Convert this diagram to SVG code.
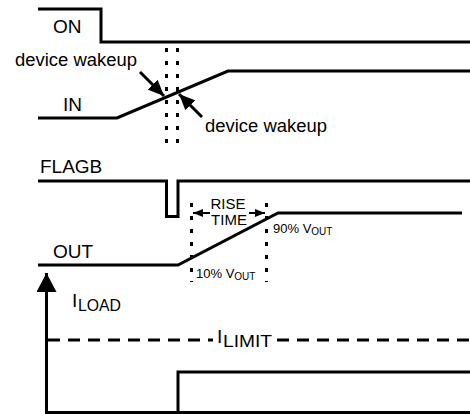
<svg xmlns="http://www.w3.org/2000/svg" width="470" height="414" viewBox="0 0 470 414">
<style>
.sig{fill:none;stroke:#000;stroke-width:3;stroke-linejoin:miter}
.dot{fill:none;stroke:#000;stroke-width:3;stroke-dasharray:4 9}
.dash{fill:none;stroke:#000;stroke-width:3;stroke-dasharray:12 8}
.arr{fill:none;stroke:#000;stroke-width:3}
.arr2{fill:none;stroke:#000;stroke-width:2}
.lbl{font-family:"Liberation Sans",Arial,sans-serif;font-size:19px;fill:#000}
.sub{font-family:"Liberation Sans",Arial,sans-serif;font-size:16px;fill:#000}
.note{font-family:"Liberation Sans",Arial,sans-serif;font-size:17.5px;fill:#000}
.small{font-family:"Liberation Sans",Arial,sans-serif;font-size:15px;fill:#000}
.tiny{font-family:"Liberation Sans",Arial,sans-serif;font-size:13px;fill:#000}
</style>
<defs>
<marker id="ah" markerUnits="userSpaceOnUse" markerWidth="16" markerHeight="14" refX="16" refY="7" orient="auto"><path d="M0,0 L16,7 L0,14 z" fill="#000"/></marker>
<marker id="ahs" markerUnits="userSpaceOnUse" markerWidth="10" markerHeight="8" refX="10" refY="4" orient="auto"><path d="M0,0 L10,4 L0,8 z" fill="#000"/></marker>
<marker id="ahb" markerUnits="userSpaceOnUse" markerWidth="19" markerHeight="20" refX="19" refY="10" orient="auto"><path d="M0,0 L19,10 L0,20 z" fill="#000"/></marker>
</defs>
<g id="connectors">
<path class="dot" d="M166.5,48 V152"/>
<path class="dot" d="M177.5,48 V152"/>
<path class="dot" d="M191.5,203 V282"/>
<path class="dot" d="M266.5,203 V282"/>
<path class="arr" d="M140,72 L164,96" marker-end="url(#ah)"/>
<path class="arr" d="M202,117 L179,94" marker-end="url(#ah)"/>
<path class="arr2" d="M210,213 L193,213" marker-end="url(#ahs)"/>
<path class="arr2" d="M249,213 L265,213" marker-end="url(#ahs)"/>
<path class="arr" d="M46.5,414 L46.5,273" marker-end="url(#ahb)"/>
<path class="dash" d="M48,340 H213"/>
<path class="dash" d="M277,340 H470"/>
</g>
<g id="sig-on">
<path class="sig" d="M38,9 H101 V42 H470"/>
<text class="lbl" x="53" y="33">ON</text>
</g>
<g id="sig-in">
<path class="sig" d="M38,118 H117 L228,71 H470"/>
<text class="lbl" x="63" y="111">IN</text>
</g>
<g id="note-wakeup-1"><text class="note" x="15" y="66" textLength="122" lengthAdjust="spacingAndGlyphs">device wakeup</text></g>
<g id="note-wakeup-2"><text class="note" x="205" y="132" textLength="122" lengthAdjust="spacingAndGlyphs">device wakeup</text></g>
<g id="sig-flagb">
<path class="sig" d="M38,181 H166.5 V216.5 H178 V181 H470"/>
<text class="lbl" x="40" y="173">FLAGB</text>
</g>
<g id="sig-out">
<path class="sig" d="M38,265 H178 L278,213 H462"/>
<text class="lbl" x="53" y="258">OUT</text>
</g>
<g id="rise-time">
<text class="small" x="228" y="209" text-anchor="middle">RISE</text>
<text class="small" x="229" y="225" text-anchor="middle">TIME</text>
</g>
<g id="label-90"><text class="tiny" x="273" y="233">90% V<tspan font-size="10" dy="2">OUT</tspan></text></g>
<g id="label-10"><text class="tiny" x="196" y="278">10% V<tspan font-size="10" dy="2">OUT</tspan></text></g>
<g id="sig-iload">
<path class="sig" d="M46,412.5 H470"/>
<path class="sig" d="M178,412.5 V372 H470"/>
<text class="lbl" x="72" y="307">I</text>
<text class="sub" x="78" y="311" textLength="43" lengthAdjust="spacingAndGlyphs">LOAD</text>
</g>
<g id="label-ilimit">
<text class="lbl" x="217" y="343">I</text>
<text class="sub" x="223" y="347" textLength="49" lengthAdjust="spacingAndGlyphs">LIMIT</text>
</g>
</svg>
